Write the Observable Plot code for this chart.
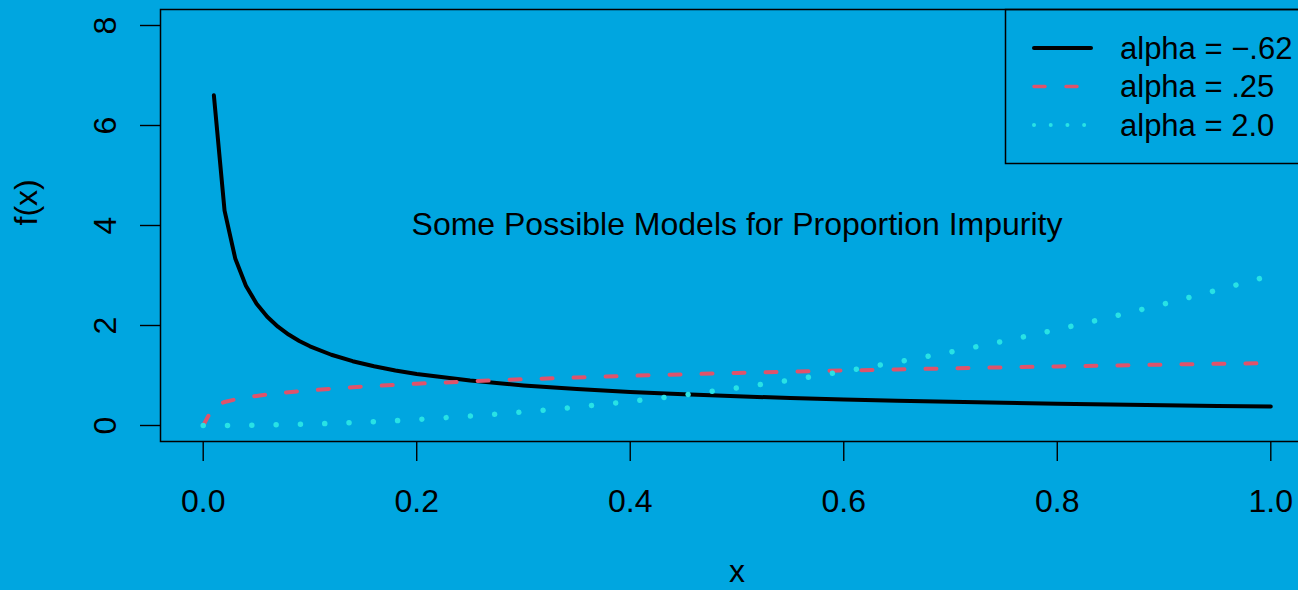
<!DOCTYPE html>
<html><head><meta charset="utf-8">
<script src="https://cdn.jsdelivr.net/npm/d3@7"></script>
<script src="https://cdn.jsdelivr.net/npm/@observablehq/plot@0.6"></script>
<style>
html,body{margin:0;padding:0;background:#00A6E0;overflow:hidden;}
#wrap{position:relative;width:1298px;height:590px;overflow:hidden;}
</style></head><body><div id="wrap"></div>
<script>
// ---- data ----
const xs = [0,0.01,0.02,0.03,0.04,0.05,0.06,0.07,0.08,0.09,0.10,0.12,0.14,0.16,0.18,0.20,0.25,0.30,0.35,0.40,0.45,0.50,0.55,0.60,0.65,0.70,0.75,0.80,0.85,0.90,0.95,1.00];
const blackY = [null,6.603,4.297,3.342,2.796,2.435,2.174,1.976,1.819,1.691,1.584,1.415,1.286,1.184,1.100,1.031,0.898,0.802,0.729,0.671,0.623,0.584,0.551,0.522,0.496,0.474,0.454,0.436,0.420,0.406,0.392,0.380];
const redY = [0,0.395,0.470,0.520,0.559,0.591,0.619,0.643,0.665,0.685,0.703,0.736,0.765,0.791,0.814,0.836,0.884,0.925,0.961,0.994,1.024,1.051,1.077,1.100,1.122,1.143,1.163,1.182,1.200,1.218,1.234,1.250];
const cyanY = [0,0.0003,0.0012,0.0027,0.0048,0.0075,0.0108,0.0147,0.0192,0.0243,0.030,0.043,0.059,0.077,0.097,0.120,0.188,0.270,0.368,0.480,0.608,0.750,0.908,1.080,1.268,1.470,1.688,1.920,2.168,2.430,2.708,3.000];
const seriesNames = ["alpha = \u2212.62", "alpha = .25", "alpha = 2.0"];
const xTicks = [0, 0.2, 0.4, 0.6, 0.8, 1.0];
const xTickLabels = ["0.0", "0.2", "0.4", "0.6", "0.8", "1.0"];
const yTicks = [0, 2, 4, 6, 8];
const yTickLabels = ["0", "2", "4", "6", "8"];
const titleText = "Some Possible Models for Proportion Impurity";
const titlePos = [{x: 0.5, y: 4, label: titleText}];
const xLabel = "x";
const yLabel = "f(x)";

// ---- style ----
const W = 1298, H = 590;
const BG = "#00A6E0";
const FONT = "'Liberation Sans', Arial, Helvetica, sans-serif";
const colors = ["#000000", "#DF536B", "#28E2E5"];
const dashes = [null, "11 21", "0.01 24.3"];
const widths = [4, 4, 5.5];

const mk = ys => xs.map((x, i) => ({x, y: ys[i]}));
const seriesData = [mk(blackY), mk(redY), mk(cyanY)];

const plot = Plot.plot({
  width: W, height: H,
  marginLeft: 160, marginRight: -15, marginTop: 9, marginBottom: 149,
  x: {domain: [-0.04, 1.04]},
  y: {domain: [-0.32, 8.32]},
  style: {background: BG, fontFamily: FONT, color: "black", overflow: "hidden"},
  marks: [
    ...[0, 1, 2].map(k => Plot.line(seriesData[k], {
      x: "x", y: "y", stroke: colors[k], strokeWidth: widths[k],
      strokeDasharray: dashes[k] ?? undefined,
      strokeLinecap: "round", strokeLinejoin: "round"
    })),
    Plot.text(titlePos, {x: "x", y: "y", text: "label", fontSize: 32, dy: -1, fill: "black"}),
    Plot.axisX({ticks: xTicks, tickFormat: d => xTickLabels[xTicks.indexOf(d)], tickSize: 20, tickPadding: 28, fontSize: 32, label: null, strokeWidth: 1.4}),
    Plot.axisY({ticks: yTicks, tickFormat: d => yTickLabels[yTicks.indexOf(d)], tickSize: 20, tickPadding: 25, tickRotate: -90, fontSize: 32, label: null, strokeWidth: 1.4}),
    Plot.text([xLabel], {text: d => d, frameAnchor: "bottom", dy: 140, lineAnchor: "bottom", fontSize: 32}),
    Plot.text([yLabel], {text: d => d, frameAnchor: "left", dx: -124, rotate: -90, lineAnchor: "bottom", fontSize: 32}),
    Plot.frame({stroke: "black", strokeWidth: 1.5})
  ]
});
const wrap = document.getElementById("wrap");
wrap.appendChild(plot);

// ---- legend overlay ----
const svg = d3.select(wrap).append("svg")
  .attr("width", W).attr("height", H)
  .style("position", "absolute").style("left", "0px").style("top", "0px")
  .style("overflow", "hidden");
svg.append("rect").attr("x", 1005.5).attr("y", 9.5).attr("width", 400).attr("height", 154)
  .attr("fill", "none").attr("stroke", "black").attr("stroke-width", 1.5);
const legDash = [null, "11 21", "0.01 16.7"];
const legW = [4, 3.5, 4];
seriesNames.forEach((name, i) => {
  const cy = 48 + i * 38.5;
  svg.append("line").attr("x1", 1034).attr("x2", 1091).attr("y1", cy).attr("y2", cy)
    .attr("stroke", colors[i]).attr("stroke-width", legW[i]).attr("stroke-linecap", "round")
    .attr("stroke-dasharray", legDash[i]);
  svg.append("text").attr("x", 1120).attr("y", cy).attr("dy", "0.35em")
    .attr("font-family", FONT).attr("font-size", 31).attr("fill", "black").text(name);
});
</script></body></html>
